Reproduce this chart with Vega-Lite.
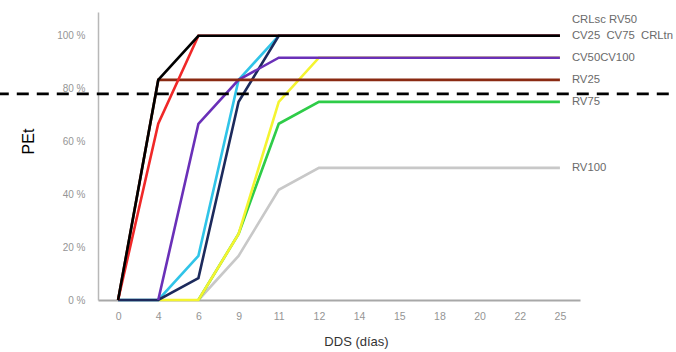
{
  "$schema": "https://vega.github.io/schema/vega-lite/v6.json",
  "width": 482,
  "height": 288,
  "autosize": "none",
  "padding": {"left": 98, "top": 12, "right": 96, "bottom": 52},
  "background": "white",
  "config": {"view": {"stroke": null}, "font": "Liberation Sans"},
  "datasets": {
    "series": [
      {"s": "RV100", "d": "6", "p": 0}, {"s": "RV100", "d": "9", "p": 0.167}, {"s": "RV100", "d": "11", "p": 0.417}, {"s": "RV100", "d": "12", "p": 0.5}, {"s": "RV100", "d": "14", "p": 0.5}, {"s": "RV100", "d": "15", "p": 0.5}, {"s": "RV100", "d": "18", "p": 0.5}, {"s": "RV100", "d": "20", "p": 0.5}, {"s": "RV100", "d": "22", "p": 0.5}, {"s": "RV100", "d": "25", "p": 0.5},
      {"s": "RV75", "d": "6", "p": 0}, {"s": "RV75", "d": "9", "p": 0.25}, {"s": "RV75", "d": "11", "p": 0.667}, {"s": "RV75", "d": "12", "p": 0.75}, {"s": "RV75", "d": "14", "p": 0.75}, {"s": "RV75", "d": "15", "p": 0.75}, {"s": "RV75", "d": "18", "p": 0.75}, {"s": "RV75", "d": "20", "p": 0.75}, {"s": "RV75", "d": "22", "p": 0.75}, {"s": "RV75", "d": "25", "p": 0.75},
      {"s": "CV100", "d": "4", "p": 0}, {"s": "CV100", "d": "6", "p": 0}, {"s": "CV100", "d": "9", "p": 0.25}, {"s": "CV100", "d": "11", "p": 0.75}, {"s": "CV100", "d": "12", "p": 0.917}, {"s": "CV100", "d": "14", "p": 0.917}, {"s": "CV100", "d": "15", "p": 0.917}, {"s": "CV100", "d": "18", "p": 0.917}, {"s": "CV100", "d": "20", "p": 0.917}, {"s": "CV100", "d": "22", "p": 0.917}, {"s": "CV100", "d": "25", "p": 0.917},
      {"s": "CV25", "d": "0", "p": 0}, {"s": "CV25", "d": "4", "p": 0}, {"s": "CV25", "d": "6", "p": 0.167}, {"s": "CV25", "d": "9", "p": 0.833}, {"s": "CV25", "d": "11", "p": 1}, {"s": "CV25", "d": "12", "p": 1}, {"s": "CV25", "d": "14", "p": 1}, {"s": "CV25", "d": "15", "p": 1}, {"s": "CV25", "d": "18", "p": 1}, {"s": "CV25", "d": "20", "p": 1}, {"s": "CV25", "d": "22", "p": 1}, {"s": "CV25", "d": "25", "p": 1},
      {"s": "CV75", "d": "0", "p": 0}, {"s": "CV75", "d": "4", "p": 0}, {"s": "CV75", "d": "6", "p": 0.083}, {"s": "CV75", "d": "9", "p": 0.75}, {"s": "CV75", "d": "11", "p": 1}, {"s": "CV75", "d": "12", "p": 1}, {"s": "CV75", "d": "14", "p": 1}, {"s": "CV75", "d": "15", "p": 1}, {"s": "CV75", "d": "18", "p": 1}, {"s": "CV75", "d": "20", "p": 1}, {"s": "CV75", "d": "22", "p": 1}, {"s": "CV75", "d": "25", "p": 1},
      {"s": "CV50", "d": "4", "p": 0}, {"s": "CV50", "d": "6", "p": 0.667}, {"s": "CV50", "d": "9", "p": 0.833}, {"s": "CV50", "d": "11", "p": 0.917}, {"s": "CV50", "d": "12", "p": 0.917}, {"s": "CV50", "d": "14", "p": 0.917}, {"s": "CV50", "d": "15", "p": 0.917}, {"s": "CV50", "d": "18", "p": 0.917}, {"s": "CV50", "d": "20", "p": 0.917}, {"s": "CV50", "d": "22", "p": 0.917}, {"s": "CV50", "d": "25", "p": 0.917},
      {"s": "RV25", "d": "0", "p": 0}, {"s": "RV25", "d": "4", "p": 0.833}, {"s": "RV25", "d": "6", "p": 0.833}, {"s": "RV25", "d": "9", "p": 0.833}, {"s": "RV25", "d": "11", "p": 0.833}, {"s": "RV25", "d": "12", "p": 0.833}, {"s": "RV25", "d": "14", "p": 0.833}, {"s": "RV25", "d": "15", "p": 0.833}, {"s": "RV25", "d": "18", "p": 0.833}, {"s": "RV25", "d": "20", "p": 0.833}, {"s": "RV25", "d": "22", "p": 0.833}, {"s": "RV25", "d": "25", "p": 0.833},
      {"s": "RV50", "d": "0", "p": 0}, {"s": "RV50", "d": "4", "p": 0.667}, {"s": "RV50", "d": "6", "p": 1}, {"s": "RV50", "d": "9", "p": 1}, {"s": "RV50", "d": "11", "p": 1}, {"s": "RV50", "d": "12", "p": 1}, {"s": "RV50", "d": "14", "p": 1}, {"s": "RV50", "d": "15", "p": 1}, {"s": "RV50", "d": "18", "p": 1}, {"s": "RV50", "d": "20", "p": 1}, {"s": "RV50", "d": "22", "p": 1}, {"s": "RV50", "d": "25", "p": 1},
      {"s": "CRLtn", "d": "0", "p": 0}, {"s": "CRLtn", "d": "4", "p": 0.833}, {"s": "CRLtn", "d": "6", "p": 1}, {"s": "CRLtn", "d": "9", "p": 1}, {"s": "CRLtn", "d": "11", "p": 1}, {"s": "CRLtn", "d": "12", "p": 1}, {"s": "CRLtn", "d": "14", "p": 1}, {"s": "CRLtn", "d": "15", "p": 1}, {"s": "CRLtn", "d": "18", "p": 1}, {"s": "CRLtn", "d": "20", "p": 1}, {"s": "CRLtn", "d": "22", "p": 1}, {"s": "CRLtn", "d": "25", "p": 1}
    ],
    "labels": [
      {"label": "CV25\u00a0 CV75\u00a0 CRLtn", "d": "25", "p": 1},
      {"label": "CV50CV100", "d": "25", "p": 0.917},
      {"label": "RV25", "d": "25", "p": 0.833},
      {"label": "RV75", "d": "25", "p": 0.75},
      {"label": "RV100", "d": "25", "p": 0.5}
    ],
    "top": [{"label": "CRLsc RV50", "d": "25", "p": 1}],
    "ref": [{"x1": -0.21, "x2": 1.2, "p": 0.78}]
  },
  "layer": [
    {
      "data": {"name": "series"},
      "mark": {"type": "line", "strokeWidth": 2.6, "clip": false},
      "encoding": {
        "x": {
          "field": "d", "type": "ordinal",
          "scale": {"type": "point", "domain": ["0","4","6","9","11","12","14","15","18","20","22","25"], "padding": 0.5},
          "axis": {"title": "DDS (días)", "labelAngle": 0, "ticks": false, "grid": false, "domainColor": "#a8a8a8", "domainWidth": 2, "labelColor": "#959595", "labelFontSize": 10.5, "labelPadding": 11, "titleFontSize": 13, "titleFontWeight": "normal", "titleColor": "#333", "titlePadding": 14, "titleX": 258}
        },
        "y": {
          "field": "p", "type": "quantitative",
          "scale": {"domain": [0, 1.09], "nice": false},
          "axis": {"title": "PEt", "values": [0, 0.2, 0.4, 0.6, 0.8, 1], "labelExpr": "round(datum.value*100) + ' %'", "ticks": false, "grid": false, "domainColor": "#b8b8b8", "domainWidth": 1.5, "labelColor": "#959595", "labelFontSize": 10, "labelPadding": 13, "titleFontSize": 16, "titleFontWeight": "normal", "titleColor": "#000", "titlePadding": 20, "titleY": 129}
        },
        "color": {
          "field": "s", "type": "nominal", "legend": null,
          "scale": {
            "domain": ["RV100", "RV75", "CV100", "CV25", "CV75", "CV50", "RV25", "RV50", "CRLtn"],
            "range": ["#c8c8c8", "#2ecc48", "#f4f430", "#30c4e8", "#1c2a5c", "#6a30b8", "#8a2a12", "#f02828", "#000000"]
          }
        }
      }
    },
    {
      "data": {"name": "ref"},
      "mark": {"type": "rule", "strokeDash": [12, 8], "strokeWidth": 2.6, "color": "#000", "clip": false},
      "encoding": {
        "x": {"field": "x1", "type": "quantitative", "scale": {"domain": [0, 1], "nice": false, "zero": false}, "axis": null},
        "x2": {"field": "x2"},
        "y": {"field": "p", "type": "quantitative"}
      }
    },
    {
      "data": {"name": "labels"},
      "mark": {"type": "text", "align": "left", "baseline": "middle", "dx": 12, "fontSize": 11.3, "color": "#6a6a6a"},
      "encoding": {
        "x": {"field": "d", "type": "ordinal", "scale": {"type": "point", "domain": ["0","4","6","9","11","12","14","15","18","20","22","25"], "padding": 0.5}, "axis": null},
        "y": {"field": "p", "type": "quantitative"},
        "text": {"field": "label"}
      }
    },
    {
      "data": {"name": "top"},
      "mark": {"type": "text", "align": "left", "baseline": "middle", "dx": 12, "dy": -16, "fontSize": 11.3, "color": "#6a6a6a"},
      "encoding": {
        "x": {"field": "d", "type": "ordinal", "scale": {"type": "point", "domain": ["0","4","6","9","11","12","14","15","18","20","22","25"], "padding": 0.5}, "axis": null},
        "y": {"field": "p", "type": "quantitative"},
        "text": {"field": "label"}
      }
    }
  ],
  "resolve": {"scale": {"x": "independent"}}
}
